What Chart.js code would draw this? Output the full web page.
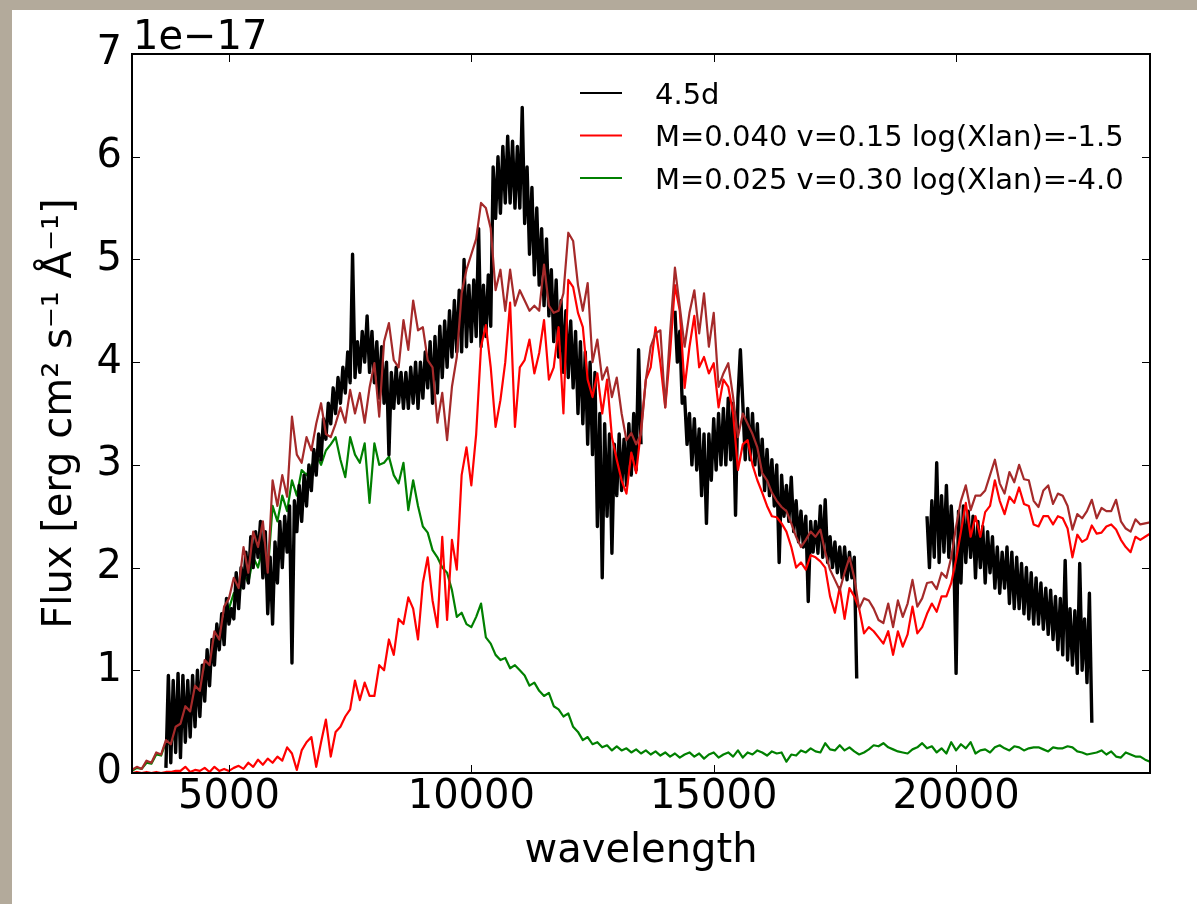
<!DOCTYPE html>
<html lang="en">
<head>
<meta charset="utf-8">
<title>Spectrum 4.5d vs models</title>
<script src="https://cdn.jsdelivr.net/npm/chart.js@4.4.0/dist/chart.umd.min.js"></script>
<style>
  html, body { margin: 0; padding: 0; }
  body { width: 1197px; height: 904px; background: #b3aa9b; position: relative; overflow: hidden; }
  .figure { position: absolute; left: 12px; top: 10px; width: 1185px; height: 894px; background: #fff; }
  canvas { display: block; }
</style>
</head>
<body>
<div class="figure"><canvas id="spec" width="1185" height="894"></canvas></div>
<script>
// model spectra, sampled every 100 A from 3000 A (flux in units of 1e-17)
const modelStart = 3000, modelStep = 100;
const brownFlux = [
  0.03, 0.06, 0.04, 0.12, 0.1, 0.2, 0.18, 0.32, 0.28, 0.45,
  0.48, 0.65, 0.6, 0.85, 0.8, 1.1, 1.05, 1.38, 1.3, 1.62,
  1.7, 1.9, 1.8, 2.2, 1.95, 2.35, 2.2, 2.45, 1.95, 2.85,
  2.6, 2.9, 2.69, 3.47, 3.1, 3.02, 3.27, 3.14, 3.4, 3.6,
  3.3, 3.27, 3.4, 3.56, 3.41, 3.73, 3.5, 3.7, 3.41, 3.75,
  3.99, 3.47, 4.2, 4.38, 4.02, 3.95, 4.41, 4.12, 4.6, 4.31,
  4.34, 4.02, 3.95, 3.41, 3.7, 3.24, 3.76, 4.05, 4.67, 4.9,
  5.05, 5.2, 5.55, 5.5, 5.3, 4.7, 4.9, 4.5, 4.9, 4.55,
  4.7, 4.6, 4.5, 4.55, 4.5, 4.95, 4.55, 4.48, 4.5, 4.67,
  5.26, 5.18, 4.75, 4.5, 4.77, 4.0, 4.22, 3.83, 3.95, 3.66,
  3.85, 3.5, 3.24, 3.31, 3.2, 3.3, 3.83, 4.15, 4.28, 4.31,
  3.56, 4.28, 4.92, 4.54, 4.15, 4.48, 4.7, 4.28, 4.67, 4.15,
  4.48, 3.76, 3.89, 3.99, 3.66, 3.27, 3.5, 3.4, 3.3, 3.17,
  2.92, 2.85, 2.73, 2.65, 2.59, 2.55, 2.43, 2.3, 2.2, 2.27,
  2.35, 2.3, 2.37, 2.15, 1.98, 1.88, 1.78, 1.95, 2.1, 1.9,
  1.6, 1.7, 1.68, 1.6, 1.49, 1.46, 1.65, 1.42, 1.68, 1.52,
  1.65, 1.88, 1.62, 1.7, 1.85, 1.86, 1.79, 1.95, 1.9, 2.1,
  2.4, 2.65, 2.8, 2.56, 2.7, 2.7, 2.75, 2.9, 3.05, 2.82,
  2.72, 2.93, 2.83, 3.0, 2.86, 2.85, 2.65, 2.59, 2.75, 2.8,
  2.62, 2.72, 2.7, 2.6, 2.37, 2.52, 2.48, 2.55, 2.66, 2.48,
  2.58, 2.55, 2.55, 2.66, 2.45, 2.38, 2.35, 2.47, 2.42, 2.43,
  2.44
];
const redFlux = [
  0, 0.01, 0, 0.01, 0, 0.01, 0, 0.01, 0.01, 0.02,
  0.02, 0.06, 0.01, 0.03, 0.02, 0.05, 0.01, 0.06, 0.02, 0.04,
  0.02, 0.05, 0.07, 0.04, 0.1, 0.06, 0.13, 0.08, 0.14, 0.1,
  0.16, 0.12, 0.25, 0.19, 0.03, 0.22, 0.3, 0.35, 0.06, 0.3,
  0.52, 0.16, 0.4, 0.45, 0.55, 0.62, 0.9, 0.71, 0.88, 0.75,
  0.75, 1.05, 1.0, 1.3, 1.15, 1.5, 1.45, 1.71, 1.6, 1.3,
  1.85, 2.1, 1.68, 1.42, 2.3, 1.49, 2.27, 1.98, 2.9, 3.17,
  2.8, 3.3, 4.15, 4.36, 3.95, 3.37, 3.63, 4.0, 4.58, 3.37,
  3.95, 4.02, 4.22, 3.89, 4.09, 4.41, 3.83, 3.95, 4.34, 3.5,
  4.8, 4.73, 4.48, 4.34, 3.83, 3.66, 3.89, 3.5, 3.83, 3.27,
  3.05, 2.85, 2.72, 3.12, 2.92, 3.34, 3.83, 3.95, 4.34, 3.99,
  3.56, 4.09, 4.75, 4.5, 3.75, 4.15, 4.45, 3.95, 4.05, 3.89,
  3.99, 3.56, 3.83, 3.76, 3.5, 2.95, 3.2, 3.24, 3.0, 2.85,
  2.73, 2.6, 2.5, 2.49, 2.43, 2.35, 2.2, 2.0, 2.05, 1.98,
  2.12, 2.1, 2.06, 2.0, 1.72, 1.56, 1.81, 1.5, 1.8, 1.72,
  1.6, 1.36, 1.42, 1.38, 1.32, 1.26, 1.38, 1.15, 1.38, 1.23,
  1.35, 1.62, 1.36, 1.42, 1.55, 1.65, 1.57, 1.72, 1.72, 1.85,
  2.08, 2.35, 2.63, 2.3, 2.5, 2.3, 2.54, 2.6, 2.85, 2.65,
  2.52, 2.69, 2.63, 2.78, 2.62, 2.6, 2.42, 2.4, 2.5, 2.5,
  2.42, 2.5, 2.48, 2.38, 2.1, 2.32, 2.25, 2.28, 2.41, 2.33,
  2.34, 2.4, 2.42, 2.37, 2.27, 2.2, 2.15, 2.3, 2.27, 2.3,
  2.33
];
const greenFlux = [
  0.02, 0.05, 0.04, 0.1, 0.09, 0.18, 0.17, 0.3, 0.27, 0.42,
  0.46, 0.6, 0.58, 0.8, 0.78, 1.05, 1.0, 1.3, 1.25, 1.5,
  1.6, 1.75, 1.7, 1.95, 1.85, 2.1, 2.0, 2.2, 1.95, 2.6,
  2.45, 2.7, 2.55, 2.85, 2.7, 2.95, 2.9, 2.98, 3.1, 3.0,
  3.14, 3.2, 3.27, 3.05, 2.88, 3.27, 3.1, 3.02, 3.21, 2.63,
  3.21, 3.0, 3.02, 3.08, 2.9, 2.82, 3.02, 2.56, 2.85, 2.6,
  2.4, 2.34, 2.17, 2.1, 2.0, 1.95, 1.78, 1.52, 1.56, 1.45,
  1.42, 1.52, 1.65, 1.32, 1.26, 1.15, 1.1, 1.12, 1.02, 1.05,
  1.0, 0.95, 0.85, 0.88, 0.8, 0.75, 0.78, 0.65, 0.62, 0.55,
  0.58, 0.45, 0.4, 0.32, 0.35, 0.28, 0.3, 0.25, 0.27, 0.22,
  0.26, 0.22, 0.24, 0.2, 0.23, 0.19, 0.22, 0.18, 0.21, 0.17,
  0.2, 0.16, 0.19, 0.15, 0.18, 0.2, 0.16, 0.19, 0.14, 0.18,
  0.2, 0.15, 0.18, 0.2, 0.16, 0.22, 0.15, 0.2, 0.18, 0.22,
  0.2, 0.17, 0.21, 0.19, 0.2, 0.11, 0.18, 0.17, 0.22, 0.2,
  0.24, 0.21, 0.2, 0.29, 0.23, 0.22, 0.27, 0.22, 0.25, 0.21,
  0.18, 0.2, 0.23, 0.27, 0.26, 0.29, 0.25, 0.23, 0.21, 0.2,
  0.19, 0.23, 0.25, 0.29, 0.24, 0.26, 0.2, 0.24, 0.19, 0.3,
  0.22, 0.28, 0.24, 0.3, 0.19, 0.22, 0.23, 0.2, 0.25, 0.27,
  0.24, 0.22, 0.26, 0.25, 0.22, 0.24, 0.25, 0.25, 0.23, 0.21,
  0.25, 0.24, 0.24, 0.26, 0.25, 0.21, 0.2, 0.18, 0.19, 0.2,
  0.22, 0.18, 0.21, 0.16, 0.15, 0.2, 0.18, 0.16, 0.16, 0.13,
  0.11
];

// observed spectrum (4.5d), sampled every 50 A, three pieces split by telluric gaps
const obsStep = 50;
const obsStarts = [3700, 14200, 19400];
const obsPiece1 = [
  0.05, 0.95, 0.1, 0.9, 0.2, 0.97, 0.15, 0.95, 0.3, 0.9,
  0.35, 0.95, 0.45, 1.0, 0.55, 1.05, 0.7, 1.2, 0.85, 1.3,
  1.05, 1.45, 1.2, 1.55, 1.25, 1.7, 1.45, 1.6, 1.5, 1.95,
  1.6, 2.0, 1.8, 2.15, 1.85, 2.3, 2.0, 2.35, 2.1, 2.45,
  1.9, 2.35, 1.55, 2.1, 1.45, 2.25, 1.85, 2.45, 2.0, 2.5,
  2.15, 2.6, 1.07, 2.65, 2.35, 2.8, 2.45, 2.9, 2.6, 3.0,
  2.75, 3.15, 2.9, 3.3, 3.05, 3.45, 3.25, 3.6, 3.4, 3.75,
  3.5, 3.85, 3.6, 3.95, 3.7, 4.1, 3.8, 5.05, 3.85, 4.2,
  3.9, 4.3, 4.0, 4.45, 3.9, 4.3, 3.8, 4.2, 3.65, 4.15,
  3.6, 4.0, 3.1, 3.9, 3.55, 3.95, 3.6, 3.9, 3.55, 3.9,
  3.55, 3.95, 3.6, 4.0, 3.55, 4.0, 3.65, 4.1, 3.75, 4.2,
  3.6, 4.25, 3.7, 4.35, 3.85, 4.4, 3.95, 4.5, 4.05, 4.6,
  4.1, 4.7, 4.1, 5.0, 4.15, 4.75, 4.2, 4.8, 4.25, 5.3,
  4.15, 4.75, 4.25, 4.85, 4.35, 5.9, 5.4, 6.0, 5.45, 6.1,
  5.55, 6.2, 5.55, 6.15, 5.5, 6.1, 5.5, 6.48, 5.35, 5.9,
  5.05, 5.7, 4.85, 5.5, 4.75, 5.3, 4.55, 5.2, 4.45, 4.9,
  4.2, 4.8, 4.05, 4.6, 3.9, 4.5, 3.85, 4.4, 3.75, 4.3,
  3.5, 4.2, 3.4, 4.1, 3.2, 4.0, 3.1, 3.9, 2.4, 3.5,
  1.9, 3.4, 2.5, 3.3, 2.14, 3.2, 2.7, 3.3, 2.75, 3.25,
  2.8, 3.4, 2.9, 3.5, 2.95, 4.12, 3.2
];
const obsPiece2 = [
  4.5, 4.0, 4.3, 3.6, 3.66, 3.2, 3.5, 3.0, 3.45, 2.95,
  3.35, 2.7, 3.3, 2.43, 3.3, 2.85, 3.45, 2.95, 3.5, 3.0,
  3.55, 3.0, 3.65, 3.05, 3.6, 2.51, 3.65, 4.12, 3.6, 3.05,
  3.55, 3.05, 3.5, 3.0, 3.4, 2.9, 3.25, 2.75, 3.15, 2.7,
  3.05, 2.6, 3.0, 2.05, 2.9, 2.5, 2.8, 2.45, 2.88, 2.35,
  2.65, 2.25, 2.55, 2.2, 2.5, 1.67, 2.45, 2.15, 2.45, 2.14,
  2.6, 2.1, 2.66, 2.05, 2.3, 2.0, 2.25, 1.95, 2.2, 1.9,
  2.2, 1.88, 2.15, 1.9, 2.1, 0.92
];
const obsPiece3 = [
  2.5, 2.0, 2.65, 2.1, 3.02, 2.05, 2.7, 2.15, 2.8, 2.1,
  2.6, 2.2, 0.97, 2.55, 1.85, 2.6, 2.05, 2.55, 2.1, 2.5,
  1.9, 2.45, 2.0, 2.4, 1.85, 2.35, 1.95, 2.3, 1.8, 2.2,
  1.75, 2.15, 1.8, 2.2, 1.65, 2.15, 1.6, 2.1, 1.6, 2.04,
  1.55, 2.0, 1.5, 1.95, 1.45, 1.9, 1.45, 1.85, 1.4, 1.8,
  1.35, 1.78, 1.3, 1.72, 1.2, 1.7, 1.15, 2.07, 1.1, 1.6,
  1.05, 1.58, 0.97, 2.04, 1.0, 1.5, 0.88, 1.75, 0.49
];

const xTicks = [5000, 10000, 15000, 20000];
const yTicks = [0, 1, 2, 3, 4, 5, 6, 7];
const legendLabels = ['4.5d', 'M=0.040 v=0.15 log(Xlan)=-1.5', 'M=0.025 v=0.30 log(Xlan)=-4.0'];
const legendColors = ['#000000', '#ff0000', '#008000'];

function gridPoints(start, step, vals) {
  return vals.map(function (v, i) { return { x: start + i * step, y: v }; });
}

let obsPoints = [];
[obsPiece1, obsPiece2, obsPiece3].forEach(function (piece, k) {
  if (k > 0) obsPoints.push({ x: obsStarts[k] - obsStep / 2, y: null });
  obsPoints = obsPoints.concat(gridPoints(obsStarts[k], obsStep, piece));
});

function lineSet(pts, color, width) {
  return { data: pts, borderColor: color, borderWidth: width, pointRadius: 0,
           tension: 0, spanGaps: false, fill: false, borderJoinStyle: 'round' };
}

// frame and inward ticks on all four sides, drawn over the data like matplotlib spines
const frameTicks = {
  id: 'frameTicks',
  afterDatasetsDraw(chart) {
    const { ctx, chartArea: a, scales } = chart;
    const len = 8;
    ctx.save();
    ctx.strokeStyle = '#000';
    ctx.lineWidth = 1;
    ctx.beginPath();
    xTicks.forEach(function (v) {
      const px = Math.round(scales.x.getPixelForValue(v)) + 0.5;
      ctx.moveTo(px, a.bottom); ctx.lineTo(px, a.bottom - len);
      ctx.moveTo(px, a.top); ctx.lineTo(px, a.top + len);
    });
    yTicks.forEach(function (v) {
      const py = Math.round(scales.y.getPixelForValue(v)) + 0.5;
      ctx.moveTo(a.left, py); ctx.lineTo(a.left + len, py);
      ctx.moveTo(a.right, py); ctx.lineTo(a.right - len, py);
    });
    ctx.stroke();
    ctx.lineWidth = 2;
    ctx.strokeRect(a.left, a.top, a.right - a.left, a.bottom - a.top);
    ctx.restore();
  }
};

// legend inside the axes (no frame) and the offset text above the y axis
const annotations = {
  id: 'annotations',
  afterDraw(chart) {
    const { ctx, chartArea: a } = chart;
    ctx.save();
    ctx.fillStyle = '#000';
    ctx.font = '40px "DejaVu Sans"';
    ctx.textBaseline = 'alphabetic';
    ctx.textAlign = 'left';
    ctx.fillText('1e\u221217', a.left + 1, a.top - 5);

    ctx.font = '29px "DejaVu Sans"';
    legendLabels.forEach(function (lab, i) {
      const y = 83 + i * 42.5;
      ctx.strokeStyle = legendColors[i];
      ctx.lineWidth = 2;
      ctx.beginPath();
      ctx.moveTo(568, y); ctx.lineTo(610, y);
      ctx.stroke();
      ctx.fillText(lab, 643, y + 10.5);
    });
    ctx.restore();
  }
};

Chart.defaults.font.family = '"DejaVu Sans"';
Chart.defaults.color = '#000';

new Chart(document.getElementById('spec'), {
  type: 'line',
  data: {
    // first dataset is drawn on top
    datasets: [
      lineSet(gridPoints(modelStart, modelStep, brownFlux), '#a52a2a', 2.2),
      lineSet(gridPoints(modelStart, modelStep, redFlux), '#ff0000', 2.2),
      lineSet(obsPoints, '#000000', 3.4),
      lineSet(gridPoints(modelStart, modelStep, greenFlux), '#008000', 2.2)
    ]
  },
  options: {
    responsive: false,
    animation: false,
    events: [],
    layout: { padding: { left: 0, top: 44, right: 47, bottom: 0 } },
    plugins: { legend: { display: false }, tooltip: { enabled: false } },
    scales: {
      x: {
        type: 'linear', min: 3000, max: 24000,
        afterBuildTicks: function (s) { s.ticks = xTicks.map(function (v) { return { value: v }; }); },
        afterFit: function (s) { s.height = 131; },
        grid: { display: false, drawTicks: false },
        border: { display: false },
        ticks: { padding: 1, font: { size: 40 }, maxRotation: 0, autoSkip: false,
                 callback: function (v) { return String(v); } },
        title: { display: true, text: 'wavelength', font: { size: 40 }, padding: { top: 0, bottom: 28 } }
      },
      y: {
        type: 'linear', min: 0, max: 7,
        afterBuildTicks: function (s) { s.ticks = yTicks.map(function (v) { return { value: v }; }); },
        afterFit: function (s) { s.width = 120; },
        grid: { display: false, drawTicks: false },
        border: { display: false },
        ticks: { padding: 10, font: { size: 40 }, autoSkip: false,
                 callback: function (v) { return String(v); } },
        title: { display: true, text: 'Flux [erg cm\u00b2 s\u207b\u00b9 \u00c5\u207b\u00b9]',
                 font: { size: 40 }, padding: { top: 25, bottom: 0 } }
      }
    }
  },
  plugins: [frameTicks, annotations]
});
</script>
</body>
</html>
